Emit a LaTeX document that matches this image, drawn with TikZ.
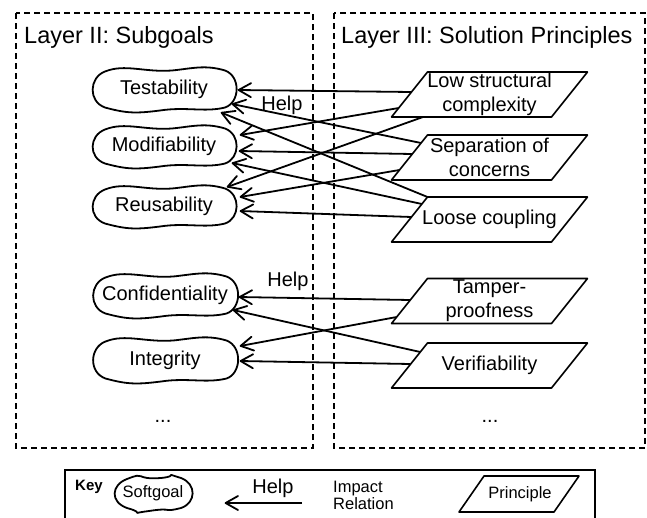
\documentclass[tikz,border=0pt]{standalone}
\usepackage{fontspec}
\setmainfont{Liberation Sans}
\usetikzlibrary{arrows.meta,calc}

\pgfdeclarearrow{
  name = OpenVee,
  parameters = {\the\pgfarrowlength,\the\pgfarrowwidth},
  setup code = {
    \pgfarrowssettipend{0pt}
    \pgfarrowssetlineend{-0.6pt}
    \pgfarrowssetbackend{-\pgfarrowlength}
    \pgfarrowssavethe\pgfarrowlength
    \pgfarrowssavethe\pgfarrowwidth
  },
  drawing code = {
    \pgfsetdash{}{0pt}
    \pgfsetroundjoin
    \pgfsetroundcap
    \pgfpathmoveto{\pgfpoint{-\pgfarrowlength}{.5\pgfarrowwidth}}
    \pgfpathlineto{\pgfpoint{-0.6pt}{0pt}}
    \pgfpathlineto{\pgfpoint{-\pgfarrowlength}{-.5\pgfarrowwidth}}
    \pgfusepathqstroke
  },
  defaults = {length=13pt, width=14pt}
}

\tikzset{
  layerbox/.style={draw, line width=1.4pt, dash pattern=on 6pt off 4pt},
  outline/.style={draw, line width=1.8pt, line join=round},
  impact/.style={line width=1.8pt, -{OpenVee[length=13pt,width=14pt]}},
  lbl/.style={inner sep=0pt, font=\fontsize{20}{24}\selectfont},
  title/.style={inner sep=0pt, anchor=west, font=\fontsize{23.5}{28}\selectfont},
  prbox/.style={inner sep=0pt, minimum width=160pt, minimum height=45pt, align=center, font=\fontsize{20}{24}\selectfont},
}

% softgoal: name, position, half width, half height, font, text
\newcommand{\softgoal}[6]{%
  \node[inner sep=0pt, minimum width={2*#3}, minimum height={2*#4}, font=#5] (#1) at (#2) {#6};
  \draw[outline, shift={(#1.center)}]
    (-#3+14,-#4+4) .. controls (-#3+34,-#4-4) and (-20,-#4+5) .. (8,-#4+3)
    .. controls (28,-#4+1) and (#3-32,-#4-3) .. (#3-12,-#4+3)
    .. controls (#3+4,-#4+9) and (#3+3,#4-9) .. (#3-12,#4-4)
    .. controls (#3-32,#4+1) and (22,#4-5) .. (-4,#4-1)
    .. controls (-28,#4+2) and (-#3+36,#4+2) .. (-#3+14,#4-4)
    .. controls (-#3-3,#4-10) and (-#3-2,-#4+10) .. (-#3+14,-#4+4) -- cycle;
}
% principle: name, position, text
\newcommand{\principle}[3]{%
  \node[prbox] (#1) at (#2) {#3};
  \draw[outline, line width=1.6pt, shift={(#1.center)}]
    (-62,-22.5) -- (98,-22.5) -- (62,22.5) -- (-98,22.5) -- cycle;
}

\begin{document}
\begin{tikzpicture}[x=1pt,y=-1pt]
\useasboundingbox (0,0) rectangle (647,517);
\clip (0,0) rectangle (647,517);

% layer boxes
\draw[layerbox] (16,13) rectangle (313,448);
\draw[layerbox] (334,13) rectangle (645,448);
\node[title] (t2) at (24,37) {Layer II: Subgoals};
\node[title] (t3) at (341,37) {Layer III: Solution Principles};

% subgoals
\softgoal{test}{164,89.5}{73}{22}{\fontsize{20}{24}\selectfont}{Testability}
\softgoal{mod}{164,146.5}{73}{21}{\fontsize{20}{24}\selectfont}{Modifiability}
\softgoal{reus}{164,206.5}{73}{21}{\fontsize{20}{24}\selectfont}{Reusability}
\softgoal{conf}{165,295.5}{73.5}{22}{\fontsize{20}{24}\selectfont}{Confidentiality}
\softgoal{integ}{165,360}{73.5}{22.5}{\fontsize{20}{24}\selectfont}{Integrity}
\node[lbl] (dots2) at (163,421) {...};

% principles
\principle{lsc}{489.5,94.5}{Low structural\\complexity}
\principle{soc}{489.5,157.5}{Separation of\\concerns}
\principle{lc}{489.5,219.5}{Loose coupling}
\principle{tamp}{489.5,301}{Tamper-\\proofness}
\principle{verif}{489.5,365.5}{Verifiability}
\node[lbl] (dots3) at (490,421) {...};

% impact relations
\draw[impact] ([shift={(-78,-2.5)}]lsc.center) -- ([shift={(74,0.5)}]test.center);
\draw[impact] ([shift={(-68.4,-14.5)}]soc.center) -- ([shift={(68,14.5)}]test.center);
\draw[impact] ([shift={(-62,-22.5)}]lc.center) -- ([shift={(57,23)}]test.center);
\draw[impact] ([shift={(-90.8,13.5)}]lsc.center) -- ([shift={(76,-11.5)}]mod.center);
\draw[impact] ([shift={(-77.2,-3.5)}]soc.center) -- ([shift={(75,4.5)}]mod.center);
\draw[impact] ([shift={(-67.6,-15.5)}]lc.center) -- ([shift={(68,16.5)}]mod.center);
\draw[impact] ([shift={(-66.5,22.5)}]lsc.center) -- ([shift={(63,-19.5)}]reus.center);
\draw[impact] ([shift={(-90,12.5)}]soc.center) -- ([shift={(76,-9.5)}]reus.center);
\draw[impact] ([shift={(-78,-2.5)}]lc.center) -- ([shift={(76,4.5)}]reus.center);
\draw[impact] ([shift={(-79.2,-1)}]tamp.center) -- ([shift={(74,1.5)}]conf.center);
\draw[impact] ([shift={(-92.8,16)}]tamp.center) -- ([shift={(75,-14)}]integ.center);
\draw[impact] ([shift={(-69.2,-13.5)}]verif.center) -- ([shift={(68,14.5)}]conf.center);
\draw[impact] ([shift={(-78.8,-1.5)}]verif.center) -- ([shift={(75,1)}]integ.center);

\node[lbl] (help1) at (282,105) {Help};
\node[lbl] (help2) at (288,281) {Help};

% key
\draw[line width=2.5pt] (65,470) rectangle (595,530);
\node[inner sep=0pt, font=\fontsize{15}{18}\selectfont\bfseries] (key) at (89,487) {Key};
\softgoal{ksg}{153,493.5}{40}{18.5}{\fontsize{16.5}{20}\selectfont}{Softgoal}
\node[lbl] (khelp) at (273,488) {Help};
\coordinate (karrs) at (302,503);
\coordinate (karre) at (225,503);
\draw[impact] (karrs) -- (karre);
\node[inner sep=0pt, anchor=west, align=left, font=\fontsize{16.5}{17}\selectfont] (krel) at (333,495.5) {Impact\\Relation};
\node[inner sep=0pt, font=\fontsize{16.5}{20}\selectfont] (kpr) at (520,494) {Principle};
\draw[outline, line width=1.6pt, shift={(kpr.center)}]
  (-36,-18) -- (59,-18) -- (34,18) -- (-61,18) -- cycle;
\end{tikzpicture}
\end{document}
